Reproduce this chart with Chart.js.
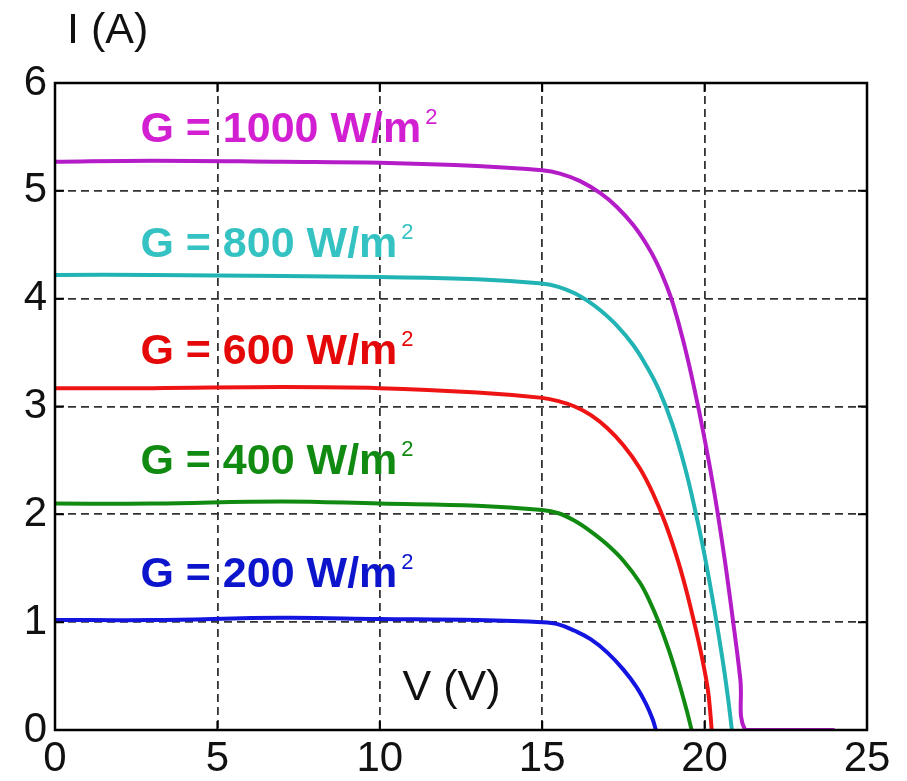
<!DOCTYPE html>
<html>
<head>
<meta charset="utf-8">
<script src="https://cdn.jsdelivr.net/npm/chart.js@4.4.0/dist/chart.umd.min.js"></script>
<style>
  html, body { margin: 0; padding: 0; background: #fff; }
  #wrap { width: 907px; height: 781px; }
</style>
</head>
<body>
<div id="wrap"><canvas id="iv-chart"></canvas></div>
<script>
// I-V curves for five irradiance levels
const v1000 = [0, 3, 7, 10, 13, 15.0, 15.55, 16.17, 16.78, 17.3, 17.81, 18.22, 18.53, 18.83, 19.04, 19.35, 19.66, 20.0, 20.3, 20.6, 20.88, 21.1, 21.25, 22, 24];
const i1000 = [5.27, 5.28, 5.27, 5.26, 5.23, 5.19, 5.16, 5.09, 4.98, 4.85, 4.68, 4.50, 4.33, 4.12, 3.94, 3.60, 3.20, 2.70, 2.20, 1.62, 1.0, 0.47, 0, 0, 0];

const v800 = [0, 3, 7, 10, 13, 15.0, 15.5, 16.0, 16.4, 16.8, 17.3, 17.8, 18.2, 18.6, 19.0, 19.4, 19.7, 20.0, 20.3, 20.55, 20.72, 20.84];
const i800 = [4.22, 4.22, 4.21, 4.20, 4.18, 4.14, 4.11, 4.05, 3.98, 3.89, 3.75, 3.57, 3.38, 3.15, 2.84, 2.43, 2.05, 1.62, 1.12, 0.66, 0.30, 0];

const v600 = [0, 3, 7, 10, 13, 15.0, 15.5, 16.0, 16.5, 17.0, 17.5, 18.0, 18.4, 18.8, 19.2, 19.5, 19.8, 20.0, 20.12, 20.22];
const i600 = [3.17, 3.17, 3.18, 3.17, 3.13, 3.08, 3.05, 3.00, 2.92, 2.80, 2.64, 2.43, 2.20, 1.91, 1.55, 1.22, 0.84, 0.55, 0.33, 0];

const v400 = [0, 3, 7, 10, 13, 15.0, 15.5, 16.0, 16.5, 17.0, 17.5, 18.0, 18.3, 18.6, 18.9, 19.2, 19.45, 19.6];
const i400 = [2.10, 2.10, 2.12, 2.10, 2.08, 2.04, 2.01, 1.94, 1.84, 1.72, 1.57, 1.37, 1.20, 0.99, 0.74, 0.45, 0.18, 0];

const v200 = [0, 3, 7, 10, 13, 15.0, 15.5, 16.0, 16.5, 17.0, 17.5, 17.9, 18.2, 18.4, 18.5];
const i200 = [1.02, 1.02, 1.04, 1.03, 1.02, 1.00, 0.98, 0.92, 0.84, 0.72, 0.56, 0.40, 0.24, 0.10, 0];

const xTicks = [0, 5, 10, 15, 20, 25];
const yTicks = [0, 1, 2, 3, 4, 5, 6];

// curve annotations: text, anchor (V, I)
const curveLabels = ['G = 1000 W/m', 'G = 800 W/m', 'G = 600 W/m', 'G = 400 W/m', 'G = 200 W/m'];
const labelV = [2.63, 2.63, 2.63, 2.63, 2.63];
const labelI = [5.45, 4.39, 3.39, 2.37, 1.33];

const lineColors = ['#b41cc8', '#22b4b4', '#ee1414', '#118a11', '#1414e0'];
const textColors = ['#d21fd2', '#35c2c2', '#e40808', '#118a11', '#0c14cc'];

const FONT = "'Liberation Sans', Arial, sans-serif";

function pts(vs, is) {
    return vs.map((v, k) => ({ x: v, y: is[k] }));
}

const series = [[v1000, i1000], [v800, i800], [v600, i600], [v400, i400], [v200, i200]];

const annotatePlugin = {
    id: 'annotate',
    afterDatasetsDraw(chart) {
        const { ctx, chartArea: a, scales: { x, y } } = chart;
        ctx.save();

        // curve labels with superscript 2
        ctx.textBaseline = 'alphabetic';
        ctx.textAlign = 'left';
        curveLabels.forEach((txt, k) => {
            const px = x.getPixelForValue(labelV[k]);
            const py = y.getPixelForValue(labelI[k]);
            ctx.fillStyle = textColors[k];
            ctx.font = 'bold 43px ' + FONT;
            ctx.fillText(txt, px, py);
            const w = ctx.measureText(txt).width;
            ctx.font = '22px ' + FONT;
            ctx.fillText('2', px + w + 4, py - 18);
        });

        // axis titles
        ctx.fillStyle = '#111';
        ctx.font = '43px ' + FONT;
        ctx.fillText('V (V)', x.getPixelForValue(10.7), y.getPixelForValue(0.28));
        ctx.fillText('I (A)', a.left + 12, a.top - 40);

        // inward tick marks
        ctx.strokeStyle = '#000';
        ctx.lineWidth = 2;
        ctx.beginPath();
        xTicks.forEach(t => {
            const px = x.getPixelForValue(t);
            ctx.moveTo(px, a.bottom); ctx.lineTo(px, a.bottom - 9);
            ctx.moveTo(px, a.top); ctx.lineTo(px, a.top + 9);
        });
        yTicks.forEach(t => {
            const py = y.getPixelForValue(t);
            ctx.moveTo(a.left, py); ctx.lineTo(a.left + 9, py);
            ctx.moveTo(a.right, py); ctx.lineTo(a.right - 9, py);
        });
        ctx.stroke();

        // box
        ctx.lineWidth = 2.5;
        ctx.strokeRect(a.left, a.top, a.right - a.left, a.bottom - a.top);
        ctx.restore();
    }
};

const ctx = document.getElementById('iv-chart').getContext('2d');
new Chart(ctx, {
    type: 'line',
    data: {
        datasets: series.map((s, k) => ({
            data: pts(s[0], s[1]),
            borderColor: lineColors[k],
            borderWidth: 4,
            pointRadius: 0,
            fill: false,
            tension: 0.4
        }))
    },
    options: {
        responsive: true,
        maintainAspectRatio: false,
        animation: false,
        layout: { padding: { top: 83, right: 40, left: 0, bottom: 0 } },
        plugins: {
            legend: { display: false },
            tooltip: { enabled: false }
        },
        scales: {
            x: {
                type: 'linear',
                min: 0,
                max: 25,
                afterBuildTicks: s => { s.ticks = xTicks.map(v => ({ value: v })); },
                afterFit: s => { s.height = 51; },
                border: { display: false, dash: [8, 5] },
                grid: {
                    color: '#333',
                    lineWidth: 1.8,
                    drawTicks: false
                },
                ticks: {
                    color: '#111',
                    padding: 4,
                    maxRotation: 0,
                    font: { family: FONT, size: 42 }
                }
            },
            y: {
                type: 'linear',
                min: 0,
                max: 6,
                afterBuildTicks: s => { s.ticks = yTicks.map(v => ({ value: v })); },
                afterFit: s => { s.width = 55; },
                border: { display: false, dash: [8, 5] },
                grid: {
                    color: '#333',
                    lineWidth: 1.8,
                    drawTicks: false
                },
                ticks: {
                    color: '#111',
                    padding: 8,
                    font: { family: FONT, size: 42 }
                }
            }
        }
    },
    plugins: [annotatePlugin]
});
</script>
</body>
</html>
